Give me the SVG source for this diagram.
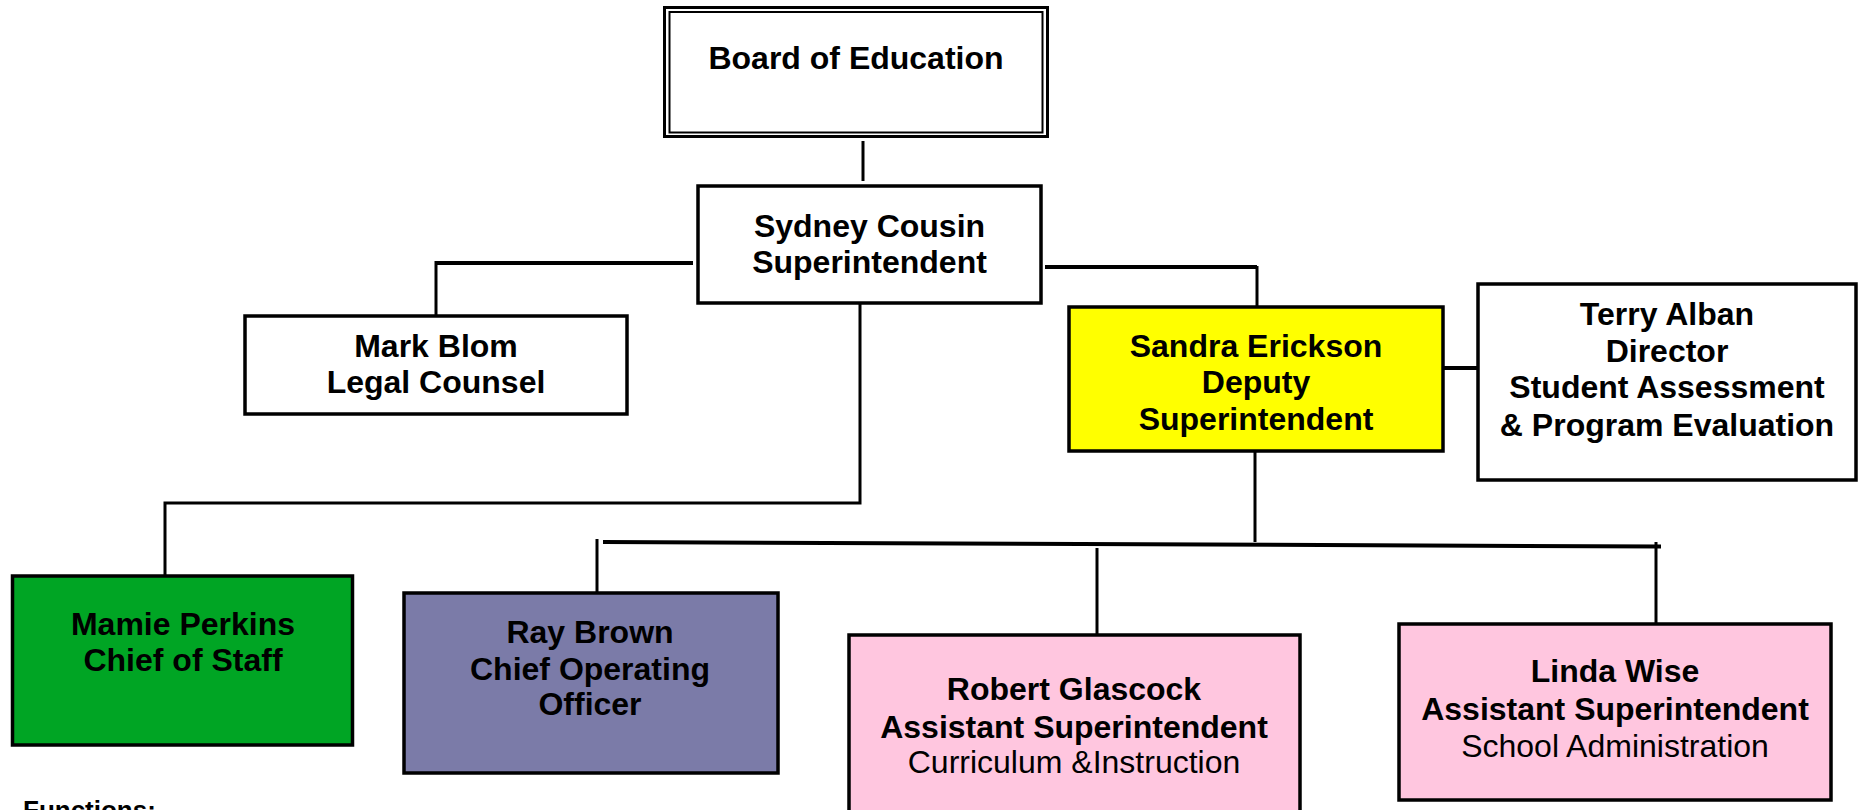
<svg xmlns="http://www.w3.org/2000/svg" width="1864" height="810" viewBox="0 0 1864 810">
<style>
.box{stroke:#000;stroke-width:3.5}
.t{font-family:"Liberation Sans",Arial,sans-serif;font-size:32px;font-weight:bold;text-anchor:middle;fill:#000}
.r{font-weight:normal}
.c{fill:none;stroke:#000;stroke-width:3}
.c2{fill:none;stroke:#000;stroke-width:4}
</style>
<rect width="1864" height="810" fill="#fff"/>
<g id="connectors">
<line class="c" x1="863" y1="141" x2="863" y2="181"/>
<polyline class="c2" points="693,263 436,263"/>
<polyline class="c" points="436,261 436,315"/>
<polyline class="c2" points="1045,267 1257,267"/>
<polyline class="c" points="1257,266 1257,306"/>
<polyline class="c" points="860,304 860,503 165,503 165,575"/>
<line class="c" x1="1255" y1="452" x2="1255" y2="542"/>
<line class="c2" x1="603" y1="542" x2="1661" y2="546.5"/>
<line class="c" x1="597" y1="539" x2="597" y2="592"/>
<line class="c" x1="1097" y1="548" x2="1097" y2="634"/>
<line class="c" x1="1656" y1="542" x2="1656" y2="623"/>
<line class="c2" x1="1443" y1="368" x2="1485" y2="368"/>
</g>
<g id="board">
<rect x="664.5" y="7.5" width="383" height="129" fill="#fff" stroke="#000" stroke-width="3"/>
<rect x="669.5" y="12" width="373" height="120.5" fill="none" stroke="#000" stroke-width="2"/>
<text class="t" x="856" y="69">Board of Education</text>
</g>
<g id="sydney">
<rect class="box" x="698" y="186" width="343" height="117" fill="#fff"/>
<text class="t" x="869.5" y="237">Sydney Cousin</text>
<text class="t" x="869.5" y="273">Superintendent</text>
</g>
<g id="mark">
<rect class="box" x="245" y="316" width="382" height="98" fill="#fff"/>
<text class="t" x="436" y="357">Mark Blom</text>
<text class="t" x="436" y="393">Legal Counsel</text>
</g>
<g id="sandra">
<rect class="box" x="1069" y="307" width="374" height="144" fill="#ffff00"/>
<text class="t" x="1256" y="357">Sandra Erickson</text>
<text class="t" x="1256" y="393">Deputy</text>
<text class="t" x="1256" y="430">Superintendent</text>
</g>
<g id="terry">
<rect class="box" x="1478" y="284" width="378" height="196" fill="#fff"/>
<text class="t" x="1667" y="325">Terry Alban</text>
<text class="t" x="1667" y="362">Director</text>
<text class="t" x="1667" y="398">Student Assessment</text>
<text class="t" x="1667" y="436">&amp; Program Evaluation</text>
</g>
<g id="mamie">
<rect class="box" x="12.5" y="576" width="340" height="169" fill="#00a524"/>
<text class="t" x="183" y="635">Mamie Perkins</text>
<text class="t" x="183" y="671">Chief of Staff</text>
</g>
<g id="ray">
<rect class="box" x="404" y="593" width="374" height="180" fill="#7b7ba8"/>
<text class="t" x="590" y="643">Ray Brown</text>
<text class="t" x="590" y="680">Chief Operating</text>
<text class="t" x="590" y="715">Officer</text>
</g>
<g id="robert">
<rect class="box" x="849" y="635" width="451" height="185" fill="#ffc6df"/>
<text class="t" x="1074" y="700">Robert Glascock</text>
<text class="t" x="1074" y="738">Assistant Superintendent</text>
<text class="t r" x="1074" y="773">Curriculum &amp;Instruction</text>
</g>
<g id="linda">
<rect class="box" x="1399" y="624" width="432" height="176" fill="#ffc6df"/>
<text class="t" x="1615" y="682">Linda Wise</text>
<text class="t" x="1615" y="720">Assistant Superintendent</text>
<text class="t r" x="1615" y="757">School Administration</text>
</g>
<text x="23" y="819" font-family="Liberation Sans,Arial,sans-serif" font-size="26" font-weight="bold" fill="#000">Functions:</text>
</svg>
